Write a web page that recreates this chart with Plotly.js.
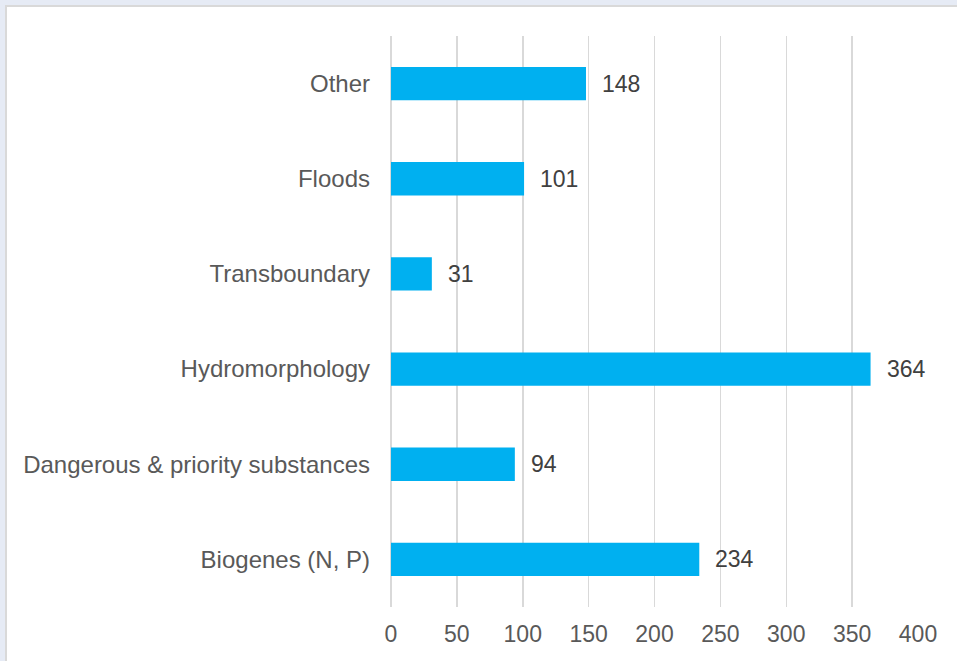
<!DOCTYPE html>
<html>
<head>
<meta charset="utf-8">
<script src="https://cdn.plot.ly/plotly-3.0.1.min.js"></script>
<style>
  html, body { margin: 0; padding: 0; width: 957px; height: 661px; overflow: hidden; background: #e6ebf5; }
  #wrap { position: absolute; left: 5px; top: 5px; width: 960px; height: 670px; background: #ffffff; border: 2px solid #d9d9d9; box-sizing: border-box; }
  #chart { position: absolute; left: 0; top: 0; width: 950px; height: 654px; }
</style>
</head>
<body>
<div id="wrap"><div id="chart"></div></div>
<script>
const categories = ["Biogenes (N, P)", "Dangerous & priority substances", "Hydromorphology", "Transboundary", "Floods", "Other"];
const values = [234, 94, 364, 31, 101, 148];
const tickValues = [0, 50, 100, 150, 200, 250, 300, 350, 400];

const trace = {
  type: "bar",
  orientation: "h",
  y: categories,
  x: values,
  marker: { color: "#00b0f0" },
  hoverinfo: "x+y"
};

const annotations = categories.map((c, i) => ({
  x: values[i], y: c, xref: "x", yref: "y",
  text: String(values[i]), showarrow: false,
  xanchor: "left", xshift: 14,
  font: { family: "Liberation Sans, Arial, sans-serif", size: 23, color: "#404040" }
}));

const layout = {
  width: 950, height: 654,
  margin: { l: 384, r: 39, t: 29, b: 54 },
  paper_bgcolor: "rgba(0,0,0,0)",
  plot_bgcolor: "#ffffff",
  bargap: 0.65,
  showlegend: false,
  font: { family: "Liberation Sans, Arial, sans-serif", size: 24, color: "#595959" },
  xaxis: {
    range: [0, 400],
    tickvals: tickValues,
    ticktext: tickValues.map(String),
    showgrid: true, gridcolor: "#d9d9d9", gridwidth: 1.5,
    zeroline: true, zerolinecolor: "#d9d9d9", zerolinewidth: 1.5,
    showline: false,
    ticks: "", ticklen: 0, ticklabelstandoff: 11,
    tickfont: { size: 23, color: "#595959" },
    automargin: false
  },
  yaxis: {
    type: "category",
    categoryorder: "array",
    categoryarray: categories,
    showgrid: false, zeroline: false, showline: false,
    ticks: "", ticklabelstandoff: 20,
    tickfont: { size: 24, color: "#595959" },
    automargin: false
  },
  annotations: annotations
};

Plotly.newPlot("chart", [trace], layout, { displayModeBar: false, staticPlot: true });
</script>
</body>
</html>
